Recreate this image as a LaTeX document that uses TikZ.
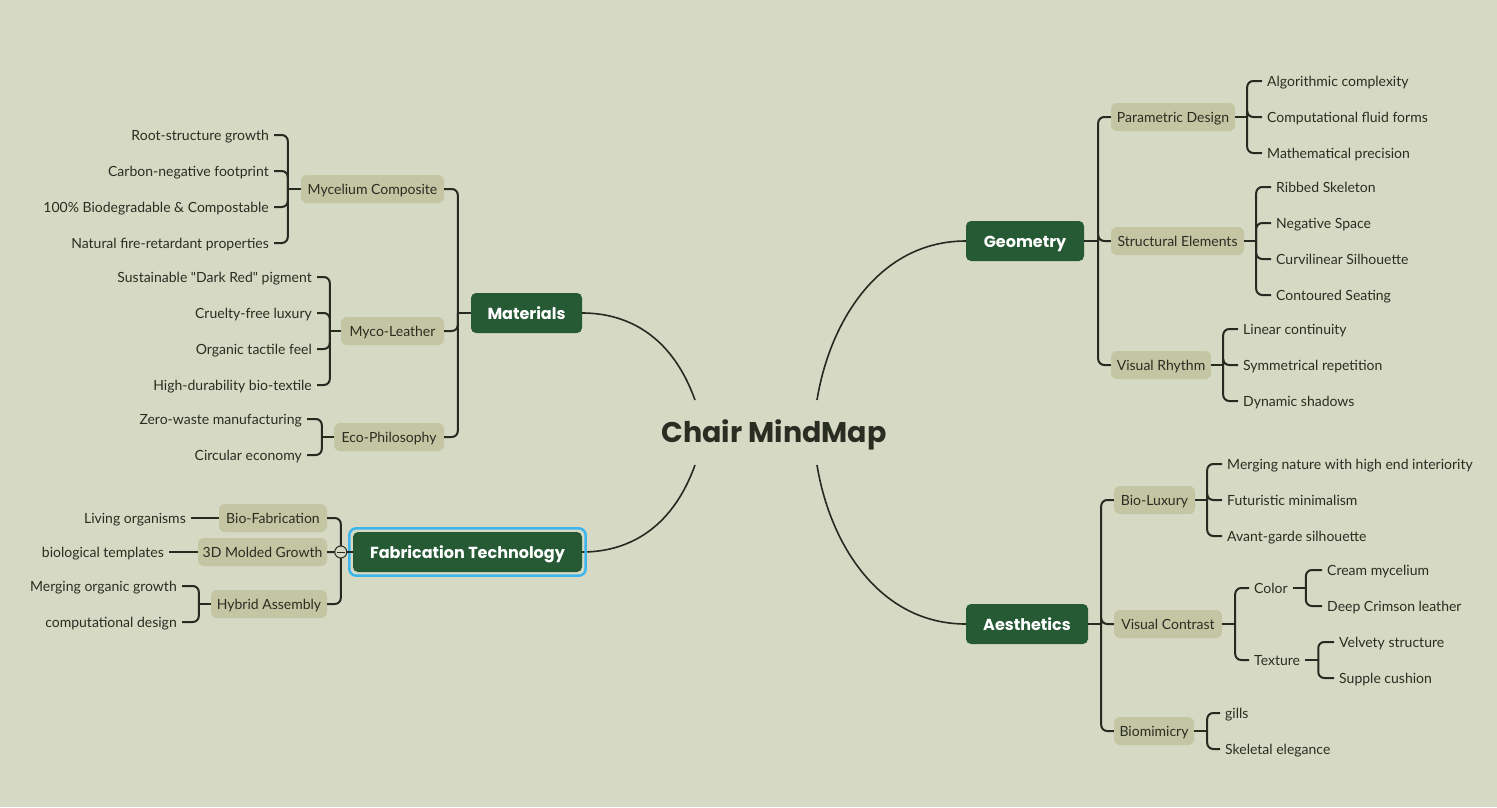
\documentclass[tikz,border=0pt]{standalone}
\usepackage{fontspec}
\setmainfont{Lato}
\newfontfamily\latoq{Lato}[Ligatures=TeXOff]
\newfontfamily\titlefont{Poppins}
\definecolor{bg}{HTML}{D6D9C4}
\definecolor{topc}{HTML}{265A35}
\definecolor{subc}{HTML}{C3C5A3}
\definecolor{txt}{HTML}{2A2E22}
\definecolor{lnc}{HTML}{262A20}
\definecolor{hl}{HTML}{3DB6EE}
\tikzset{
  leaf/.style={font=\fontsize{14}{16}\selectfont, text=txt, inner xsep=5pt, inner ysep=2pt, text height=10pt, text depth=0pt},
  sub/.style={fill=subc, rounded corners=6pt, minimum height=28pt, inner xsep=2pt, font=\fontsize{14}{16}\selectfont, text=txt, text height=10pt, text depth=0pt},
  topic/.style={fill=topc, rounded corners=5pt, minimum height=40pt, inner xsep=4pt, text=white, font=\titlefont\bfseries\fontsize{16}{20}\selectfont, text height=13pt, text depth=0pt},
  br/.style={draw=lnc, line width=2pt, rounded corners=6pt},
  mainlink/.style={draw=lnc, line width=1.6pt},
}
\begin{document}
\begin{tikzpicture}[x=1pt,y=-1pt]
\fill[bg] (0,0) rectangle (1497,807);
\useasboundingbox (0,0) rectangle (1497,807);

% root
\node[font=\titlefont\bfseries\fontsize{28.5}{32}\selectfont, text=txt, text height=20pt, text depth=0pt] (root) at (774,432) {Chair MindMap};
\coordinate (rml) at (695,400);
\coordinate (rfl) at (695,465);
\coordinate (rgr) at (817,400);
\coordinate (rar) at (817,465);

% main topics
\node[topic, minimum width=111pt] (mat) at (526.5,313) {Materials};
\node[topic, minimum width=229pt] (fab) at (467.5,552) {Fabrication Technology};
\node[topic, minimum width=118pt] (geo) at (1025,241) {Geometry};
\node[topic, minimum width=122pt] (aes) at (1027,624) {Aesthetics};

\draw[mainlink] (rml) .. controls (668,325) and (615,313) .. (mat.east);
\draw[mainlink] (rfl) .. controls (668,540) and (615,552) .. (fab.east);
\draw[mainlink] (rgr) .. controls (830,320) and (880,241) .. (geo.west);
\draw[mainlink] (rar) .. controls (830,545) and (880,624) .. (aes.west);

\draw[draw=hl, line width=2.5pt, rounded corners=7pt] ([shift={(-3.5,3.5)}]fab.south west) rectangle ([shift={(3.5,-3.5)}]fab.north east);

% ---------- Materials ----------
\node[sub, minimum width=143pt] (myc) at (372.5,189) {Mycelium Composite};
\node[sub, minimum width=103pt] (mle) at (392.5,331) {Myco-Leather};
\node[sub, minimum width=110pt] (eco) at (389,437) {Eco-Philosophy};
\draw[br] (mat.west) -- ([xshift=-13pt]mat.west) coordinate (jm);
\draw[br] (jm) |- (myc.east);
\draw[br] (jm) |- (mle.east);
\draw[br] (jm) |- (eco.east);

\node[leaf, anchor=east] (m1) at (274,135) {Root-structure growth};
\node[leaf, anchor=east] (m2) at (274,171) {Carbon-negative footprint};
\node[leaf, anchor=east] (m3) at (274,207) {100\% Biodegradable \& Compostable};
\node[leaf, anchor=east] (m4) at (274,243) {Natural fire-retardant properties};
\draw[br] (myc.west) -- ([xshift=-13pt]myc.west) coordinate (jmy);
\foreach \n in {m1,m2,m3,m4} \draw[br] (jmy) |- (\n.east);

\node[leaf, anchor=east] (l1) at (317,277) {Sustainable {\latoq"}Dark Red{\latoq"} pigment};
\node[leaf, anchor=east] (l2) at (317,313) {Cruelty-free luxury};
\node[leaf, anchor=east] (l3) at (317,349) {Organic tactile feel};
\node[leaf, anchor=east] (l4) at (317,385) {High-durability bio-textile};
\draw[br] (mle.west) -- ([xshift=-11pt]mle.west) coordinate (jml);
\foreach \n in {l1,l2,l3,l4} \draw[br] (jml) |- (\n.east);

\node[leaf, anchor=east] (e1) at (307,419) {Zero-waste manufacturing};
\node[leaf, anchor=east] (e2) at (307,455) {Circular economy};
\draw[br] (eco.west) -- ([xshift=-12pt]eco.west) coordinate (jeco);
\foreach \n in {e1,e2} \draw[br] (jeco) |- (\n.east);

% ---------- Fabrication ----------
\node[sub, minimum width=108pt] (bio) at (273,518) {Bio-Fabrication};
\node[sub, minimum width=129pt] (mold) at (262.5,552) {3D Molded Growth};
\node[sub, minimum width=116pt] (hyb) at (269,604) {Hybrid Assembly};
\draw[br] (fab.west) -- ([xshift=-12pt]fab.west) coordinate (jf);
\draw[br] (jf) |- (bio.east);
\draw[br] (jf) |- (mold.east);
\draw[br] (jf) |- (hyb.east);
\node[circle, draw=lnc, fill=bg, line width=1pt, minimum size=12pt, inner sep=0pt] (fold) at (jf) {};
\draw[lnc, line width=1pt] ([xshift=-4pt]fold.center) -- ([xshift=4pt]fold.center);

\node[leaf, anchor=east] (f1) at (191,518) {Living organisms};
\draw[br] (f1.east) -- (bio.west);
\node[leaf, anchor=east] (f2) at (169,552) {biological templates};
\draw[br] (f2.east) -- (mold.west);
\node[leaf, anchor=east] (h1) at (182,586) {Merging organic growth};
\node[leaf, anchor=east] (h2) at (182,622) {computational design};
\draw[br] (hyb.west) -- ([xshift=-12pt]hyb.west) coordinate (jh);
\foreach \n in {h1,h2} \draw[br] (jh) |- (\n.east);

% ---------- Geometry ----------
\node[sub, minimum width=124pt] (par) at (1173,117) {Parametric Design};
\node[sub, minimum width=133pt] (str) at (1177.5,241) {Structural Elements};
\node[sub, minimum width=100pt] (vr) at (1161,365) {Visual Rhythm};
\draw[br] (geo.east) -- ([xshift=14pt]geo.east) coordinate (jg);
\draw[br] (jg) |- (par.west);
\draw[br] (jg) |- (str.west);
\draw[br] (jg) |- (vr.west);

\node[leaf, anchor=west] (p1) at (1262,81) {Algorithmic complexity};
\node[leaf, anchor=west] (p2) at (1262,117) {Computational fluid forms};
\node[leaf, anchor=west] (p3) at (1262,153) {Mathematical precision};
\draw[br] (par.east) -- ([xshift=12pt]par.east) coordinate (jp);
\foreach \n in {p1,p2,p3} \draw[br] (jp) |- (\n.west);

\node[leaf, anchor=west] (s1) at (1271,187) {Ribbed Skeleton};
\node[leaf, anchor=west] (s2) at (1271,223) {Negative Space};
\node[leaf, anchor=west] (s3) at (1271,259) {Curvilinear Silhouette};
\node[leaf, anchor=west] (s4) at (1271,295) {Contoured Seating};
\draw[br] (str.east) -- ([xshift=12pt]str.east) coordinate (js);
\foreach \n in {s1,s2,s3,s4} \draw[br] (js) |- (\n.west);

\node[leaf, anchor=west] (v1) at (1238,329) {Linear continuity};
\node[leaf, anchor=west] (v2) at (1238,365) {Symmetrical repetition};
\node[leaf, anchor=west] (v3) at (1238,401) {Dynamic shadows};
\draw[br] (vr.east) -- ([xshift=12pt]vr.east) coordinate (jv);
\foreach \n in {v1,v2,v3} \draw[br] (jv) |- (\n.west);

% ---------- Aesthetics ----------
\node[sub, minimum width=81pt] (blx) at (1154.5,500) {Bio-Luxury};
\node[sub, minimum width=108pt] (vc) at (1168,624) {Visual Contrast};
\node[sub, minimum width=80pt] (bmm) at (1154,731) {Biomimicry};
\draw[br] (aes.east) -- ([xshift=13pt]aes.east) coordinate (ja);
\draw[br] (ja) |- (blx.west);
\draw[br] (ja) |- (vc.west);
\draw[br] (ja) |- (bmm.west);

\node[leaf, anchor=west] (b1) at (1222,464) {Merging nature with high end interiority};
\node[leaf, anchor=west] (b2) at (1222,500) {Futuristic minimalism};
\node[leaf, anchor=west] (b3) at (1222,536) {Avant-garde silhouette};
\draw[br] (blx.east) -- ([xshift=12pt]blx.east) coordinate (jb);
\foreach \n in {b1,b2,b3} \draw[br] (jb) |- (\n.west);

\node[leaf, anchor=west] (col) at (1249,588) {Color};
\node[leaf, anchor=west] (tex) at (1249,660) {Texture};
\draw[br] (vc.east) -- ([xshift=13pt]vc.east) coordinate (jvc);
\foreach \n in {col,tex} \draw[br] (jvc) |- (\n.west);

\node[leaf, anchor=west] (c1) at (1322,570) {Cream mycelium};
\node[leaf, anchor=west] (c2) at (1322,606) {Deep Crimson leather};
\draw[br] (col.east) -- ([xshift=13pt]col.east) coordinate (jc);
\foreach \n in {c1,c2} \draw[br] (jc) |- (\n.west);

\node[leaf, anchor=west] (t1) at (1334,642) {Velvety structure};
\node[leaf, anchor=west] (t2) at (1334,678) {Supple cushion};
\draw[br] (tex.east) -- ([xshift=13pt]tex.east) coordinate (jt);
\foreach \n in {t1,t2} \draw[br] (jt) |- (\n.west);

\node[leaf, anchor=west] (g1) at (1220,713) {gills};
\node[leaf, anchor=west] (g2) at (1220,749) {Skeletal elegance};
\draw[br] (bmm.east) -- ([xshift=13pt]bmm.east) coordinate (jbm);
\foreach \n in {g1,g2} \draw[br] (jbm) |- (\n.west);
\end{tikzpicture}
\end{document}
